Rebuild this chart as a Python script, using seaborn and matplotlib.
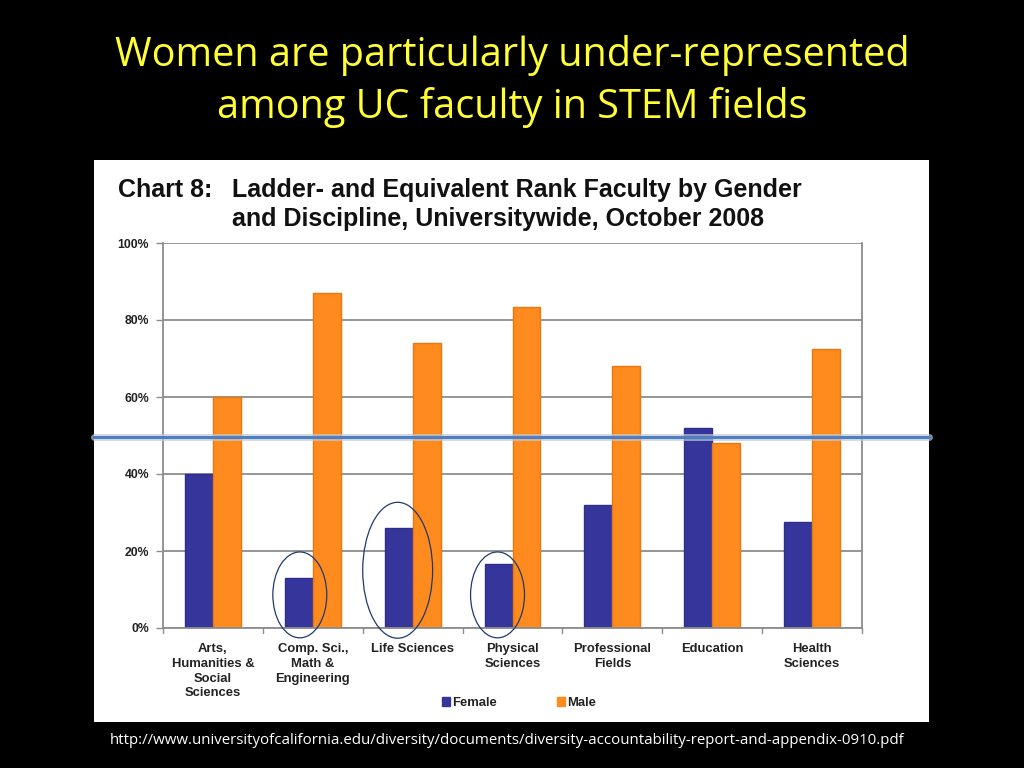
import matplotlib
matplotlib.use("Agg")
import matplotlib.pyplot as plt
import matplotlib.transforms as mtrans
from matplotlib.patches import Rectangle, Ellipse
from matplotlib.lines import Line2D
import seaborn as sns
import pandas as pd

categories = ["Arts,\nHumanities &\nSocial\nSciences", "Comp. Sci.,\nMath &\nEngineering",
              "Life Sciences", "Physical\nSciences", "Professional\nFields", "Education",
              "Health\nSciences"]
female = [40.0, 13.0, 26.0, 16.6, 32.0, 52.0, 27.5]
male = [60.0, 87.0, 74.0, 83.4, 68.0, 48.0, 72.5]
genders = ["Female", "Male"]
yticks = [0, 20, 40, 60, 80, 100]
ytick_labels = ["0%", "20%", "40%", "60%", "80%", "100%"]

df = pd.DataFrame({
    "Discipline": categories * 2,
    "Gender": ["Female"] * len(categories) + ["Male"] * len(categories),
    "Percent": female + male,
})

sns.set_theme(style="white")
plt.rcParams["font.family"] = ["Liberation Sans", "DejaVu Sans"]

fig = plt.figure(figsize=(10.24, 7.68), dpi=100)
fig.patch.set_facecolor("black")

W, H = 1024, 768
# white panel
fig.add_artist(Rectangle((94 / W, 1 - 722 / H), (929 - 94) / W, (722 - 160) / H,
                         transform=fig.transFigure, facecolor="white", edgecolor="none", zorder=0))

ax = fig.add_axes([163 / W, 1 - 628 / H, (862 - 163) / W, (628 - 243) / H])
ax.set_zorder(1)
ax.set_facecolor("white")

palette = {"Female": "#35359C", "Male": "#FF8A1E"}
sns.barplot(data=df, x="Discipline", y="Percent", hue="Gender", hue_order=genders,
            palette=palette, width=0.56, dodge=True, ax=ax, legend=False, saturation=1,
            linewidth=1, edgecolor="none")
for bar, c in zip(ax.patches, ["#2E2E8A"] * 7 + ["#E8780F"] * 7):
    bar.set_edgecolor(c)

ax.set_ylim(0, 100)
ax.set_xlim(-0.5, 6.5)
ax.set_yticks(yticks)
ax.set_yticklabels(ytick_labels, fontsize=8.8, fontweight="bold", color="#222222")
ax.yaxis.grid(True, color="#8C8C8C", linewidth=1.3)
ax.set_axisbelow(True)
ax.set_xlabel("")
ax.set_ylabel("")
ax.set_xticks(range(len(categories)))
ax.set_xticklabels(categories, fontsize=9.4, fontweight="bold", color="#222222", linespacing=1.3)
ax.tick_params(axis="x", length=0, pad=11)
ax.tick_params(axis="y", left=True, length=5, width=1, color="#8C8C8C", pad=5)
for x in [0.5, 1.5, 2.5, 3.5, 4.5, 5.5, 6.5, -0.5]:
    ax.plot([x, x], [0, -1.3], color="#8C8C8C", linewidth=1, clip_on=False)
for s in ["left", "bottom", "right"]:
    ax.spines[s].set_visible(True)
    ax.spines[s].set_color("#8C8C8C")
    ax.spines[s].set_linewidth(1.3)
ax.spines["top"].set_visible(False)

# ellipses around STEM female bars
for cx, cy, ew, eh in [(1 - 0.13, 8.6, 0.54, 22.3), (2 - 0.15, 15.0, 0.70, 35.3),
                       (3 - 0.15, 8.6, 0.54, 22.3)]:
    ax.add_patch(Ellipse((cx, cy), ew, eh, facecolor="none", edgecolor="#1F3A6E",
                         linewidth=0.9, clip_on=False, zorder=5))

# 50% line across panel
tr = mtrans.blended_transform_factory(fig.transFigure, ax.transData)
ax.add_line(Line2D([94 / W, 929 / W], [49.6, 49.6], transform=tr, color="#BFC9D6",
                   linewidth=5, alpha=0.7, clip_on=False, zorder=6))
ax.add_line(Line2D([94 / W, 929 / W], [49.6, 49.6], transform=tr, color="#4F7FC0",
                   linewidth=2.2, clip_on=False, zorder=7))

# legend
handles = [Rectangle((0, 0), 1, 1, color=palette[g]) for g in genders]
fig.legend(handles, genders, loc="center", bbox_to_anchor=(519 / W, 1 - 703 / H), ncol=2,
           frameon=False, prop={"size": 9.4, "weight": "bold"}, handlelength=0.6,
           handleheight=0.6, handletextpad=0.2, columnspacing=4.6, labelcolor="#222222")

# chart title
fig.text(118 / W, 1 - 190 / H, "Chart 8:", fontsize=18, fontweight="bold", color="#111111",
         va="center", ha="left")
fig.text(232 / W, 1 - 190 / H, "Ladder- and Equivalent Rank Faculty by Gender",
         fontsize=18, fontweight="bold", color="#111111", va="center", ha="left")
fig.text(232 / W, 1 - 219 / H, "and Discipline, Universitywide, October 2008",
         fontsize=18, fontweight="bold", color="#111111", va="center", ha="left")

# slide title
fig.text(512 / W, 1 - 55 / H, "Women are particularly under-represented", fontsize=28.5,
         color="#FFFF33", ha="center", va="center", family=["Open Sans", "DejaVu Sans"])
fig.text(512 / W, 1 - 108 / H, "among UC faculty in STEM fields", fontsize=28.5,
         color="#FFFF33", ha="center", va="center", family=["Open Sans", "DejaVu Sans"])

fig.text(507 / W, 1 - 740 / H,
         "http://www.universityofcalifornia.edu/diversity/documents/diversity-accountability-report-and-appendix-0910.pdf",
         fontsize=10.8, color="white", ha="center", va="center", family=["Open Sans", "DejaVu Sans"])

fig.savefig("out.png", dpi=100, facecolor="black")
